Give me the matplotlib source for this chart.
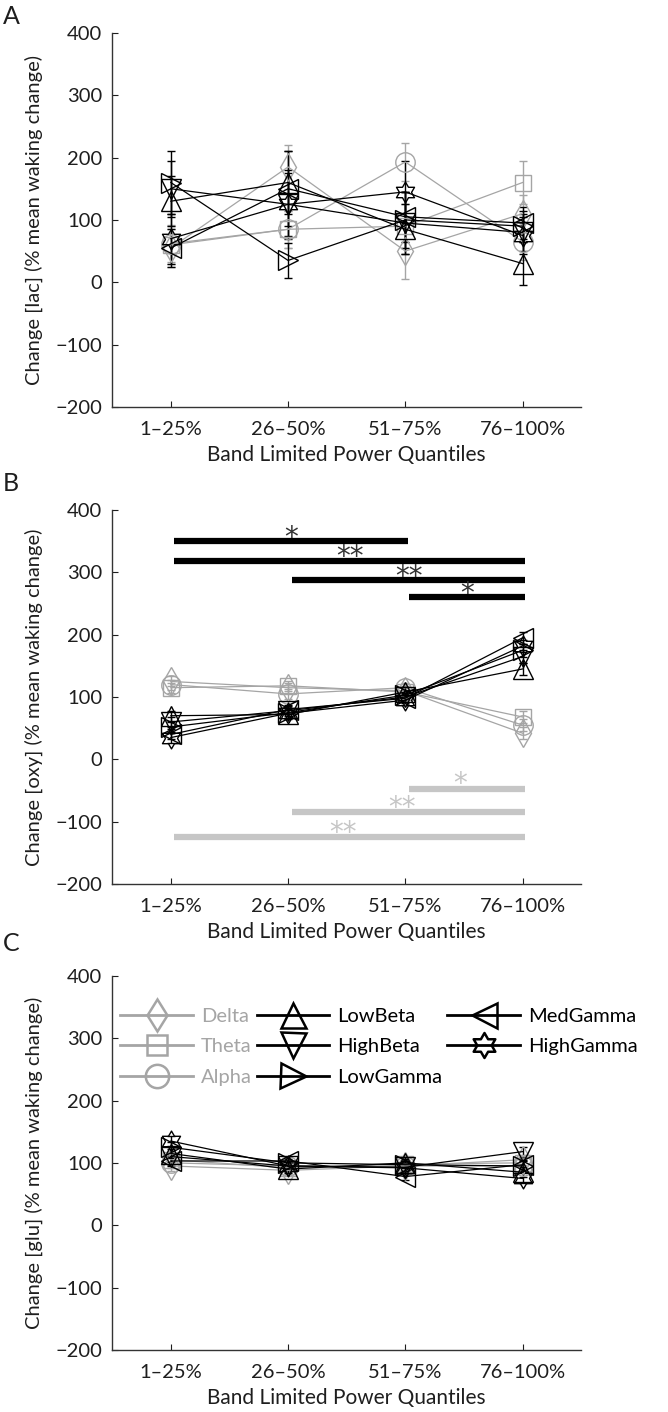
import numpy as np
import matplotlib
matplotlib.use('Agg')
import matplotlib.pyplot as plt
from matplotlib.path import Path
from matplotlib.lines import Line2D

plt.rcParams['font.family'] = ['Lato', 'DejaVu Sans']

QUANTILES = ['1\u201325%', '26\u201350%', '51\u201375%', '76\u2013100%']
BANDS = ['Delta', 'Theta', 'Alpha', 'LowBeta', 'HighBeta', 'LowGamma', 'MedGamma', 'HighGamma']

# panel A: lactate
lac_delta = [55, 185, 50, 110]
lac_theta = [60, 85, 90, 160]
lac_alpha = [62, 85, 193, 65]
lac_lowbeta = [130, 160, 85, 30]
lac_highbeta = [150, 125, 95, 80]
lac_lowgamma = [160, 35, 100, 90]
lac_medgamma = [55, 150, 105, 95]
lac_highgamma = [70, 125, 145, 75]

lac_err = [
	[30, 35, 45, 30],
	[30, 30, 35, 35],
	[30, 30, 30, 30],
	[40, 50, 40, 35],
	[45, 55, 50, 30],
	[50, 28, 45, 25],
	[30, 60, 40, 25],
	[40, 50, 50, 30],
]

# panel B: oxygen
oxy_delta = [125, 115, 110, 42]
oxy_theta = [115, 118, 108, 68]
oxy_alpha = [120, 105, 115, 55]
oxy_lowbeta = [70, 72, 108, 145]
oxy_highbeta = [60, 78, 100, 165]
oxy_lowgamma = [52, 75, 103, 175]
oxy_medgamma = [40, 80, 98, 195]
oxy_highgamma = [35, 74, 95, 182]
oxy_err = [8, 8, 8, 10]

# panel C: glutamate
glu_delta = [95, 88, 95, 105]
glu_theta = [105, 92, 98, 100]
glu_alpha = [100, 95, 95, 95]
glu_lowbeta = [115, 90, 100, 85]
glu_highbeta = [110, 95, 93, 118]
glu_lowgamma = [125, 100, 97, 95]
glu_medgamma = [103, 103, 78, 97]
glu_highgamma = [135, 95, 92, 75]
glu_err = [8, 6, 6, 8]

# significance bars in panel B: (from, to, level, stars)
sig_high = [(1, 3, 350, '*'), (1, 4, 319, '**'), (2, 4, 288, '**'), (3, 4, 260, '*')]
sig_low = [(3, 4, -47, '*'), (2, 4, -85, '**'), (1, 4, -125, '**')]

GRAY = '#a5a5a5'
SIG_GRAY = '#c6c6c6'
TXT = '#1e1e1e'

# hexagram marker
hexagram = Path.unit_regular_star(6, 0.577)
MARKERS = ['d', 's', 'o', '^', 'v', '>', '<', hexagram]
COLORS = [GRAY] * 3 + ['black'] * 5
MSIZE = [14, 12, 14, 15, 15, 15, 15, 15]

def style_axis(ax, ylabel):
	ax.set_xlim(0.5, 4.5)
	ax.set_ylim(-200, 400)
	ax.set_yticks(np.arange(-200, 401, 100))
	ax.set_yticklabels(['\u2212200', '\u2212100', '0', '100', '200', '300', '400'])
	ax.set_xticks(np.arange(1, 5))
	ax.set_xticklabels(QUANTILES)
	ax.spines['top'].set_visible(False)
	ax.spines['right'].set_visible(False)
	for s in ['left', 'bottom']:
		ax.spines[s].set_color('#333333')
		ax.spines[s].set_linewidth(1.0)
	ax.tick_params(axis='y', direction='in', length=4, pad=7, labelsize=14.5, colors=TXT)
	ax.tick_params(axis='x', direction='in', length=4, pad=10, labelsize=14.5, colors=TXT)
	ax.set_ylabel(ylabel, fontsize=14.5, labelpad=9, color=TXT)
	ax.set_xlabel('Band Limited Power Quantiles', fontsize=15, labelpad=5, color=TXT)

def draw_series(ax, series, errs):
	x = np.arange(1, 5)
	for i, vals in enumerate(series):
		ax.errorbar(x, vals, yerr=errs[i], color=COLORS[i], lw=0.9,
			marker=MARKERS[i], ms=MSIZE[i], mfc='none', mec=COLORS[i], mew=1.0,
			elinewidth=1.0, capsize=3, capthick=1.0)

fig = plt.figure(figsize=(6.68, 14.12), dpi=100)

axA = fig.add_axes([0.168, 0.7118, 0.702, 0.2649])
axB = fig.add_axes([0.168, 0.3739, 0.702, 0.2649])
axC = fig.add_axes([0.168, 0.0440, 0.702, 0.2649])

lac = [lac_delta, lac_theta, lac_alpha, lac_lowbeta, lac_highbeta, lac_lowgamma, lac_medgamma, lac_highgamma]
oxy = [oxy_delta, oxy_theta, oxy_alpha, oxy_lowbeta, oxy_highbeta, oxy_lowgamma, oxy_medgamma, oxy_highgamma]
glu = [glu_delta, glu_theta, glu_alpha, glu_lowbeta, glu_highbeta, glu_lowgamma, glu_medgamma, glu_highgamma]

draw_series(axA, lac, lac_err)
draw_series(axB, oxy, [oxy_err] * 8)
draw_series(axC, glu, [glu_err] * 8)

style_axis(axA, 'Change [lac] (% mean waking change)')
style_axis(axB, 'Change [oxy] (% mean waking change)')
style_axis(axC, 'Change [glu] (% mean waking change)')

# significance bars, stars sit just above each bar
for a, b, lvl, stars in sig_high:
	axB.plot([a + 0.03, b + 0.02], [lvl, lvl], color='black', lw=4.5, solid_capstyle='butt')
	axB.text((a + b) / 2 + 0.03, lvl - 8, stars, color='#333333', fontsize=20,
		ha='center', va='baseline', family='DejaVu Sans')
for a, b, lvl, stars in sig_low:
	axB.plot([a + 0.03, b + 0.02], [lvl, lvl], color=SIG_GRAY, lw=4.5, solid_capstyle='butt')
	axB.text((a + b) / 2 - 0.03, lvl - 6, stars, color=SIG_GRAY, fontsize=20,
		ha='center', va='baseline', family='DejaVu Sans')

# legend in panel C, no error bars in the handles
handles = [Line2D([], [], color=COLORS[i], lw=2.0, marker=MARKERS[i], ms=MSIZE[i] * 1.2,
	mfc='none', mec=COLORS[i], mew=1.8) for i in range(len(BANDS))]
leg = axC.legend(handles, BANDS, ncol=3, loc='upper left', bbox_to_anchor=(0.0, 0.935),
	frameon=False, fontsize=14.5, handlelength=3.6, columnspacing=0.25,
	handletextpad=0.4, labelspacing=0.65, borderaxespad=0)
for i, txt in enumerate(leg.get_texts()):
	txt.set_color(GRAY if i < 3 else 'black')

# panel letters
fig.text(0.004, 0.9965, 'A', fontsize=18, va='top', ha='left', color=TXT)
fig.text(0.004, 0.6655, 'B', fontsize=18, va='top', ha='left', color=TXT)
fig.text(0.004, 0.3400, 'C', fontsize=18, va='top', ha='left', color=TXT)

fig.savefig('out.png', dpi=100)
